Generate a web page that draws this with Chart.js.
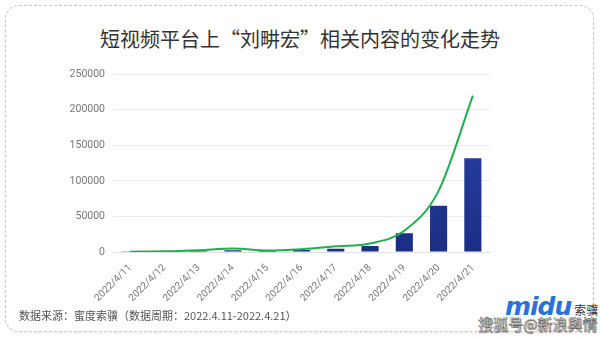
<!DOCTYPE html>
<html>
<head>
<meta charset="utf-8">
<script src="https://cdn.jsdelivr.net/npm/chart.js@4"></script>
<style>
  html, body { margin: 0; padding: 0; background: #fff; }
  body { width: 600px; height: 337px; position: relative; overflow: hidden; font-family: "Noto Sans CJK SC", "Noto Sans", sans-serif; }
  .card { position: absolute; left: 5px; top: 5px; width: 587px; height: 325px; border: 1px dashed #c8c8c8; border-radius: 14px; box-shadow: 0 1px 3px rgba(0,0,0,0.08); }
  .title { position: absolute; left: 0; top: 24px; width: 600px; text-align: center; font-size: 20px; color: #333; }
  .chart-box { position: absolute; left: 60px; top: 60px; width: 436px; height: 250px; }
  .source { position: absolute; left: 19px; top: 307px; font-size: 11px; color: #555; }
  .logo { position: absolute; left: 505px; top: 292px; font: italic bold 25px "DejaVu Sans", sans-serif; color: #2a72d8; letter-spacing: -1px; }
  .logo span { font: normal 12px "Noto Sans CJK SC", sans-serif; color: #333; letter-spacing: 0; margin-left: 3px; }
  .mark { position: absolute; left: 478px; top: 313px; font-size: 15px; color: #fff; -webkit-text-stroke: 0.4px #444; text-shadow: 1px 1px 1px #777; }
</style>
</head>
<body>
<div class="card"></div>
<div class="title">短视频平台上“刘畊宏”相关内容的变化走势</div>
<div class="chart-box"><canvas id="c"></canvas></div>
<div class="source">数据来源：蜜度索骥（数据周期：2022.4.11-2022.4.21）</div>
<div class="logo">midu<span>索骥</span></div>
<div class="mark">搜狐号@新浪舆情通</div>
<script>
// categories and values
const dates = ['2022/4/11', '2022/4/12', '2022/4/13', '2022/4/14', '2022/4/15', '2022/4/16',
  '2022/4/17', '2022/4/18', '2022/4/19', '2022/4/20', '2022/4/21'];
const barValues = [300, 600, 1800, 2500, 1500, 2800, 4600, 8500, 26500, 65000, 132000];
const lineValues = [500, 1000, 2500, 4800, 2000, 4000, 8000, 12000, 30000, 86000, 220000];
const yTicks = [0, 50000, 100000, 150000, 200000, 250000];

function barFill(ctx) {
  const area = ctx.chart.chartArea;
  if (!area) return '#22399a';
  const g = ctx.chart.ctx.createLinearGradient(0, area.top, 0, area.bottom);
  g.addColorStop(0, '#2a47aa');
  g.addColorStop(1, '#1b2e84');
  return g;
}

new Chart(document.getElementById('c'), {
  data: {
    labels: dates,
    datasets: [
      {
        type: 'line',
        data: lineValues,
        borderColor: '#1fae4e',
        borderWidth: 2,
        pointRadius: 0,
        tension: 0.4,
        cubicInterpolationMode: 'monotone',
        order: 0
      },
      {
        type: 'bar',
        data: barValues,
        backgroundColor: barFill,
        barPercentage: 0.5,
        categoryPercentage: 1,
        order: 1
      }
    ]
  },
  options: {
    responsive: true,
    maintainAspectRatio: false,
    animation: false,
    layout: { padding: { top: 8, right: 6 } },
    plugins: { legend: { display: false }, tooltip: { enabled: false } },
    scales: {
      x: {
        grid: { display: false },
        border: { color: '#e0e0e0' },
        ticks: { color: '#777', font: { size: 10, family: 'Roboto' }, maxRotation: 45, minRotation: 45, padding: 2 },
        afterFit: s => { s.height = 58; }
      },
      y: {
        min: 0,
        max: 250000,
        afterBuildTicks: s => { s.ticks = yTicks.map(v => ({ value: v })); },
        grid: { color: '#ececec', drawTicks: false },
        border: { display: false },
        ticks: { color: '#777', font: { size: 10.5, family: 'Roboto' }, padding: 8, callback: v => String(v) },
        afterFit: s => { s.width = 53; }
      }
    }
  }
});
</script>
</body>
</html>
